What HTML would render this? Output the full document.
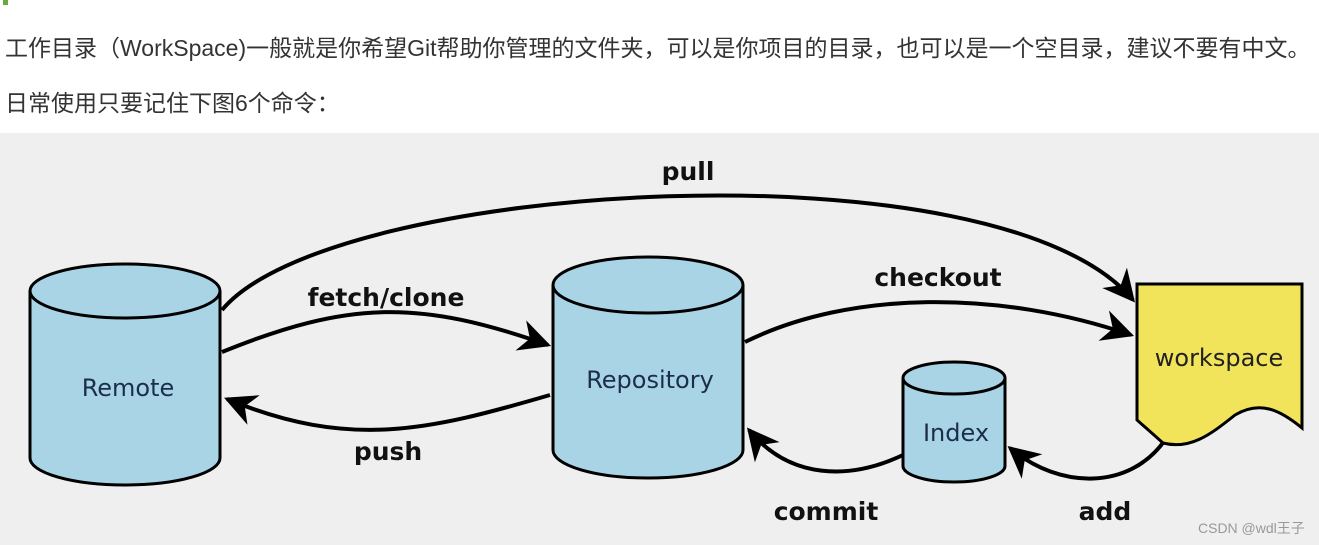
<!DOCTYPE html>
<html><head><meta charset="utf-8"><style>
body{margin:0;width:1319px;height:545px;background:#fff;overflow:hidden;position:relative;font-family:"Liberation Sans","Noto Sans CJK SC",sans-serif}
.t{position:absolute;left:5px;font-size:23px;color:#333;white-space:nowrap}
</style></head><body>
<div style="position:absolute;left:3px;top:0;width:5px;height:5px;background:#6aab3a"></div>
<div class="t" style="top:29px">工作目录（WorkSpace)一般就是你希望Git帮助你管理的文件夹，可以是你项目的目录，也可以是一个空目录，建议不要有中文。</div>
<div class="t" style="top:84px">日常使用只要记住下图6个命令：</div>
<svg style="position:absolute;left:0;top:0" width="1319" height="545" viewBox="0 0 1319 545">
<defs>
<marker id="b" viewBox="0 0 10 10" refX="9" refY="5" markerWidth="8" markerHeight="8" orient="auto"><path d="M0,0 L10,5 L0,10 L3,5 z" fill="#000"/></marker></defs>
<rect x="0" y="133" width="1319" height="412" fill="#efefef"/>
<g stroke="#000" stroke-width="4" fill="none" marker-end="url(#b)">
<path d="M222,310 C330,180 1000,140 1133,300"/>
<path d="M222,352 C350,300 420,300 548,345"/>
<path d="M550,395 C430,430 350,450 227,399"/>
<path d="M745,342 C850,290 1000,290 1131,335"/>
<path d="M903,455 C850,480 790,480 749,430"/>
<path d="M1165,440 C1130,490 1060,490 1010,448"/>
</g>
<g stroke="#000" stroke-width="3" fill="#a8d4e6">
<path d="M30,291 V458 A95,27 0 0 0 220,458 V291"/>
<ellipse cx="125" cy="291" rx="95" ry="27"/>
<path d="M553,285 V450 A95,28 0 0 0 743,450 V285"/>
<ellipse cx="648" cy="285" rx="95" ry="28"/>
<path d="M903,378 V466 A51,16 0 0 0 1005,466 V378"/>
<ellipse cx="954" cy="378" rx="51" ry="16"/>
</g>
<path d="M1137,284 H1302 V428 C1280,410 1260,400 1235,415 C1210,435 1190,450 1163,443 L1137,420 Z" fill="#f1e35a" stroke="#000" stroke-width="3"/>
<g font-family="DejaVu Sans, Liberation Sans, sans-serif" font-size="24" fill="#1c2e4a" text-anchor="middle">
<text x="128" y="396">Remote</text>
<text x="650" y="388">Repository</text>
<text x="956" y="441">Index</text>
<text x="1219" y="366" fill="#222">workspace</text>
</g>
<g font-family="DejaVu Sans, Liberation Sans, sans-serif" font-size="25" font-weight="bold" fill="#111" text-anchor="middle">
<text x="688" y="180">pull</text>
<text x="386" y="306">fetch/clone</text>
<text x="388" y="460">push</text>
<text x="938" y="286">checkout</text>
<text x="826" y="520">commit</text>
<text x="1105" y="520">add</text>
</g>
<text x="1198" y="533" font-family="Liberation Sans, Noto Sans CJK SC, sans-serif" font-size="14" fill="#999">CSDN @wdl王子</text>
</svg>
</body></html>
